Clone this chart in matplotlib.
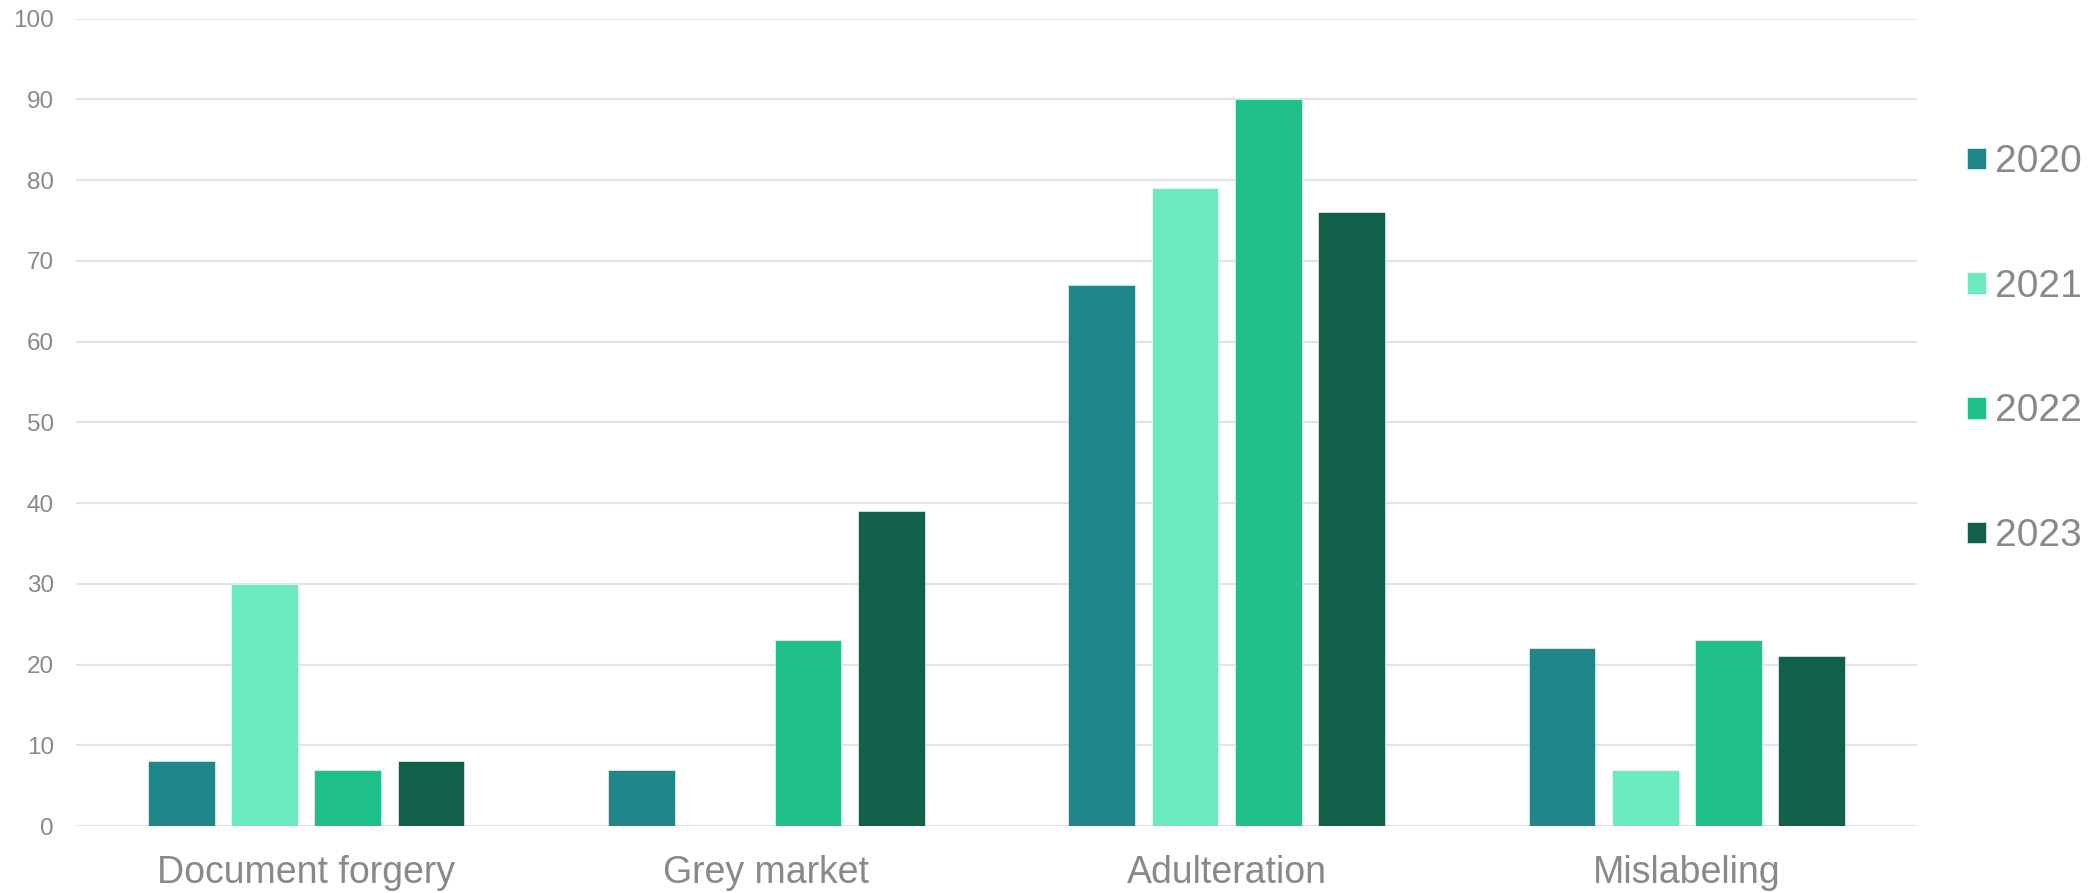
import numpy as np
import matplotlib
matplotlib.use('Agg')
import matplotlib.pyplot as plt

plt.rcParams['font.family'] = ['Liberation Sans', 'DejaVu Sans']

categories = ['Document forgery', 'Grey market', 'Adulteration', 'Mislabeling']
years = ['2020', '2021', '2022', '2023']
v2020 = [8, 7, 67, 22]
v2021 = [30, 0, 79, 7]
v2022 = [7, 23, 90, 23]
v2023 = [8, 39, 76, 21]
series = [v2020, v2021, v2022, v2023]
colors = ['#1F8789', '#6AEAC0', '#1FC08A', '#10604A']

grey = '#898989'

fig = plt.figure(figsize=(20.95, 8.93), dpi=100)
ax = fig.add_axes([0.0363, 0.075, 0.8787, 0.904])

x = np.arange(len(categories))
width = 0.145
pitch = 0.181
for i, (vals, col) in enumerate(zip(series, colors)):
    offset = (i - 1.5) * pitch
    ax.bar(x + offset, vals, width, color=col, label=years[i],
           edgecolor='white', linewidth=0.4, zorder=3)

ax.set_xlim(-0.5, len(categories) - 0.5)
ax.set_ylim(0, 100)
ax.set_yticks(np.arange(0, 101, 10))
ax.set_xticks(x)
ax.set_xticklabels(categories, fontsize=27, color=grey)
ax.tick_params(axis='x', length=0, pad=21)
ax.tick_params(axis='y', length=0, pad=16, labelsize=17.5, labelcolor=grey)
ax.grid(axis='y', color='#E3E3E3', linewidth=1.5, zorder=0)
for s in ax.spines.values():
    s.set_visible(False)

# legend on the right, widely spaced rows
fig.legend(loc='center left', bbox_to_anchor=(0.939, 0.609), frameon=False,
           fontsize=28, labelcolor=grey, handlelength=0.48, handleheight=0.48,
           handletextpad=0.24, labelspacing=2.28, borderpad=0, borderaxespad=0)

fig.savefig('out.png', dpi=100)
